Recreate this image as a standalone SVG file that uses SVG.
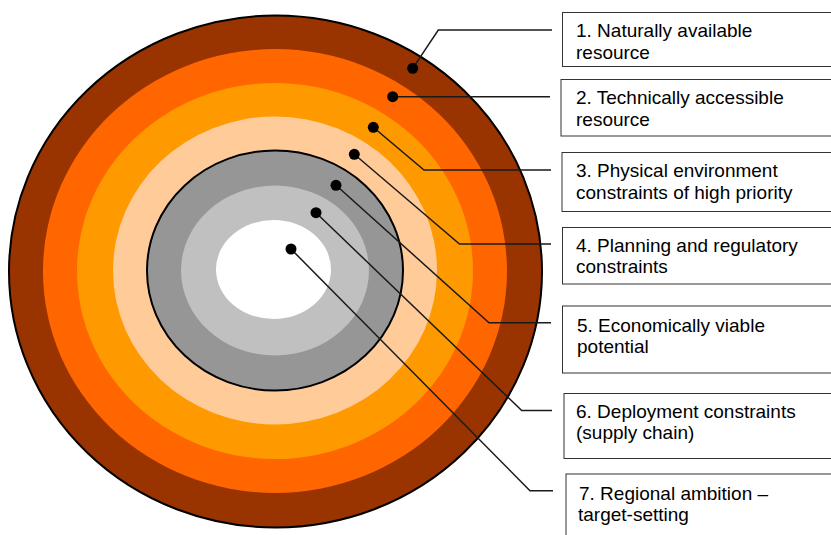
<svg xmlns="http://www.w3.org/2000/svg" width="831" height="535" viewBox="0 0 831 535">
<style>
.box{fill:#fff;stroke:#333;stroke-width:1}
.lbl{font-family:"Liberation Sans",Arial,sans-serif;font-size:19px;fill:#000}
.con{fill:none;stroke:#1a1a1a;stroke-width:1.5}
.dot{fill:#000}
</style>
<rect width="831" height="535" fill="#fff"/>
<g id="rings">
<ellipse cx="275.5" cy="271.5" rx="266.5" ry="256" fill="#993300" stroke="#000" stroke-width="2"/>
<ellipse cx="275" cy="271" rx="232" ry="222" fill="#FF6600"/>
<ellipse cx="275" cy="271" rx="198" ry="188" fill="#FF9900"/>
<ellipse cx="275" cy="270.5" rx="162" ry="154" fill="#FFCC99"/>
<ellipse cx="275" cy="270.5" rx="128" ry="120" fill="#969696" stroke="#000" stroke-width="2"/>
<ellipse cx="275" cy="270.5" rx="94" ry="85" fill="#C0C0C0"/>
<ellipse cx="273.5" cy="269.5" rx="57.5" ry="49.5" fill="#FFFFFF"/>
</g>
<g id="connectors">
<polyline class="con" points="412.7,68.3 438.3,30 552,30"/>
<polyline class="con" points="392.7,96.7 550,96.7"/>
<polyline class="con" points="373.3,127.3 424,170 551,170"/>
<polyline class="con" points="354.3,154.3 459.5,244 551,244"/>
<polyline class="con" points="336,185.3 489,322.7 551,322.7"/>
<polyline class="con" points="316,212.7 521.7,410.5 552,410.5"/>
<polyline class="con" points="291,249 530,490.7 553,490.7"/>
<circle class="dot" cx="412.7" cy="68.3" r="5.5"/>
<circle class="dot" cx="392.7" cy="96.7" r="5.5"/>
<circle class="dot" cx="373.3" cy="127.3" r="5.5"/>
<circle class="dot" cx="354.3" cy="154.3" r="5.5"/>
<circle class="dot" cx="336" cy="185.3" r="5.5"/>
<circle class="dot" cx="316" cy="212.7" r="5.5"/>
<circle class="dot" cx="291" cy="249" r="5.5"/>
</g>
<g id="node1">
<rect class="box" x="562.5" y="12.5" width="275" height="54"/>
<text class="lbl" x="576" y="36.5">1. Naturally available</text>
<text class="lbl" x="576" y="58.5">resource</text>
</g>
<g id="node2">
<rect class="box" x="561" y="79.5" width="276" height="56.5"/>
<text class="lbl" x="576" y="104">2. Technically accessible</text>
<text class="lbl" x="576" y="125.5">resource</text>
</g>
<g id="node3">
<rect class="box" x="562" y="152.5" width="275" height="59"/>
<text class="lbl" x="576" y="177">3. Physical environment</text>
<text class="lbl" x="576" y="199">constraints of high priority</text>
</g>
<g id="node4">
<rect class="box" x="562.5" y="227.5" width="275" height="56.5"/>
<text class="lbl" x="576" y="251.5">4. Planning and regulatory</text>
<text class="lbl" x="576" y="273">constraints</text>
</g>
<g id="node5">
<rect class="box" x="562.5" y="306" width="275" height="67"/>
<text class="lbl" x="577" y="331.5">5. Economically viable</text>
<text class="lbl" x="577" y="353">potential</text>
</g>
<g id="node6">
<rect class="box" x="564" y="393.5" width="273" height="65"/>
<text class="lbl" x="576" y="417.5">6. Deployment constraints</text>
<text class="lbl" x="576" y="439">(supply chain)</text>
</g>
<g id="node7">
<rect class="box" x="566" y="474" width="271" height="70"/>
<text class="lbl" x="579" y="499.5">7. Regional ambition –</text>
<text class="lbl" x="578" y="520.5">target-setting</text>
</g>
</svg>
